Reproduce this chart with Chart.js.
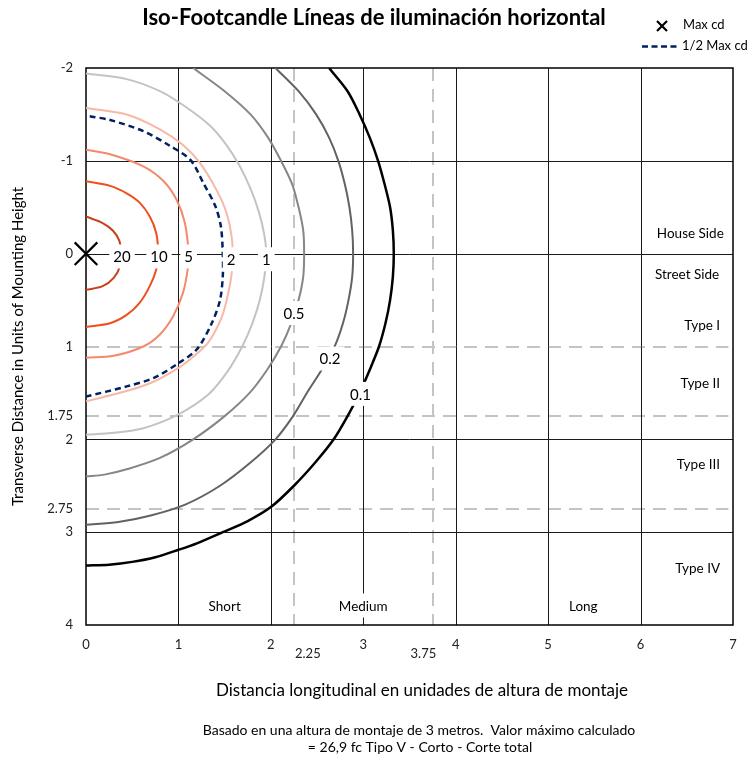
<!DOCTYPE html>
<html><head><meta charset="utf-8">
<script src="https://cdn.jsdelivr.net/npm/chart.js@4.4.1/dist/chart.umd.min.js"></script>
<style>html,body{margin:0;padding:0;background:#fff}#wrap{width:754px;height:761px;position:relative}</style>
</head><body><div id="wrap"><canvas id="c"></canvas></div>
<script>
// ---------- data ----------
const xTicks = [0,1,2,3,4,5,6,7];
const yTicks = [-2,-1,0,1,1.75,2,2.75,3,4];
const extraXTicks = [2.25, 3.75];
const isoLevels = ['20','10','5','2','1','0.5','0.2','0.1'];

const iso20 = [[0,-0.40],[0.18,-0.33],[0.29,-0.25],[0.36,-0.14],[0.38,0],[0.37,0.13],[0.30,0.26],[0.18,0.35],[0,0.39]];
const iso10 = [[0,-0.78],[0.26,-0.73],[0.44,-0.65],[0.58,-0.55],[0.69,-0.40],[0.76,-0.22],[0.78,0],[0.76,0.17],[0.69,0.35],[0.58,0.53],[0.44,0.66],[0.26,0.75],[0,0.79]];
const iso5  = [[0,-1.12],[0.26,-1.07],[0.62,-0.94],[0.84,-0.78],[0.98,-0.58],[1.07,-0.33],[1.11,0],[1.10,0.17],[1.05,0.42],[0.94,0.68],[0.80,0.87],[0.62,1.0],[0.30,1.10],[0,1.12]];
const iso2  = [[0,-1.57],[0.44,-1.50],[0.80,-1.34],[1.05,-1.17],[1.23,-0.98],[1.41,-0.69],[1.52,-0.44],[1.58,-0.15],[1.58,0.17],[1.54,0.42],[1.47,0.68],[1.32,0.96],[1.16,1.11],[1.0,1.23],[0.73,1.38],[0.44,1.48],[0,1.59]];
const iso1  = [[0,-1.94],[0.44,-1.88],[0.80,-1.75],[1.08,-1.58],[1.34,-1.38],[1.52,-1.17],[1.66,-0.95],[1.78,-0.70],[1.87,-0.45],[1.93,-0.2],[1.95,0],[1.93,0.25],[1.88,0.5],[1.80,0.75],[1.69,1.0],[1.53,1.27],[1.32,1.52],[1.0,1.73],[0.62,1.88],[0.30,1.93],[0,1.95]];
const iso05 = [[1.16,-2.0],[1.50,-1.75],[1.78,-1.5],[1.97,-1.25],[2.11,-1.0],[2.23,-0.75],[2.30,-0.5],[2.35,-0.25],[2.36,0],[2.35,0.25],[2.30,0.5],[2.22,0.75],[2.11,1.0],[1.96,1.25],[1.77,1.5],[1.50,1.75],[1.16,2.0],[0.80,2.2],[0.45,2.32],[0.2,2.38],[0,2.40]];
const iso02 = [[2.05,-2.0],[2.30,-1.75],[2.49,-1.5],[2.63,-1.25],[2.73,-1.0],[2.80,-0.75],[2.85,-0.5],[2.88,-0.25],[2.89,0],[2.88,0.25],[2.84,0.5],[2.78,0.75],[2.69,1.0],[2.55,1.25],[2.39,1.5],[2.24,1.75],[2.05,2.0],[1.78,2.25],[1.45,2.5],[1.08,2.7],[0.70,2.82],[0.35,2.89],[0,2.92]];
const iso01 = [[2.63,-2.0],[2.83,-1.75],[2.96,-1.5],[3.07,-1.25],[3.16,-1.0],[3.23,-0.75],[3.29,-0.5],[3.32,-0.25],[3.33,0],[3.32,0.25],[3.29,0.5],[3.24,0.75],[3.17,1.0],[3.07,1.25],[2.96,1.5],[2.83,1.75],[2.68,2.0],[2.48,2.25],[2.25,2.5],[2.0,2.73],[1.75,2.88],[1.48,3.0],[1.20,3.12],[1.0,3.19],[0.75,3.27],[0.5,3.32],[0.25,3.35],[0,3.36]];
const halfMax = [[0.04,-1.48],[0.26,-1.44],[0.62,-1.32],[0.91,-1.16],[1.13,-1.01],[1.27,-0.76],[1.40,-0.51],[1.46,-0.29],[1.48,0],[1.48,0.24],[1.45,0.50],[1.36,0.75],[1.20,1.03],[1.0,1.18],[0.73,1.34],[0.44,1.43],[0,1.54]];
const maxCd = [[0,0]];

const solidGridX = [1,2,3,4,5,6];
const solidGridY = [-1,0,2,3];
const dashedGridX = [2.25,3.75];
const dashedGridY = [1,1.75,2.75];

const zoneLabels = ['House Side','Street Side','Type I','Type II','Type III','Type IV'];
const rangeLabels = ['Short','Medium','Long'];

// ---------- label anchors (data space) ----------
const isoLabelAt = [[0.39,0.03],[0.79,0.03],[1.11,0.03],[1.57,0.06],[1.95,0.06],[2.25,0.64],[2.64,1.13],[2.97,1.51]];
const zoneLabelAt = [[6.90,-0.23],[6.85,0.22],[6.86,0.76],[6.86,1.39],[6.86,2.26],[6.86,3.38]];
const rangeLabelAt = [[1.50,3.79],[3.0,3.79],[5.38,3.79]];
const extraXLabelAt = [2.40, 3.65];

// ---------- styles ----------
const isoSeries = [iso20, iso10, iso5, iso2, iso1, iso05, iso02, iso01];
const isoColors = ['#C8401A','#F04E1E','#F4896E','#F8B8A6','#C3C3C3','#868686','#626262','#000000'];
const isoWidths = [2,2,2,2,2,2,2,2.5];
const FONT = 'Lato';

function makeChart(){
  const toXY = arr => arr.map(([x,y]) => ({x, y}));
  const datasets = [
    { label:'Max cd', data: toXY(maxCd), showLine:false, pointStyle:'crossRot', pointRadius:16,
      pointBorderWidth:2.2, pointBorderColor:'#000', borderColor:'#000', backgroundColor:'#000', clip:false, order:0 },
    { label:'1/2 Max cd', data: toXY(halfMax), showLine:true, borderColor:'#002060', borderWidth:2.5,
      borderDash:[6,4], pointRadius:0, tension:0.3, fill:false, order:1 }
  ];
  isoSeries.forEach((s,i) => datasets.push({
    label: isoLevels[i] + ' fc', data: toXY(s), showLine:true, borderColor: isoColors[i],
    borderWidth: isoWidths[i], pointRadius:0, tension:0.3, fill:false, order: 2 + i
  }));

  const decor = {
    id:'isoDecor',
    beforeDatasetsDraw(chart){
      const {ctx, chartArea:a, scales:{x:sx, y:sy}} = chart;
      ctx.save();
      ctx.strokeStyle = '#C4C4C4'; ctx.lineWidth = 2; ctx.setLineDash([13,8]);
      dashedGridX.forEach(v => { const x = Math.round(sx.getPixelForValue(v)); ctx.beginPath(); ctx.moveTo(x, a.top); ctx.lineTo(x, a.bottom); ctx.stroke(); });
      dashedGridY.forEach(v => { const y = Math.round(sy.getPixelForValue(v)); ctx.beginPath(); ctx.moveTo(a.left, y); ctx.lineTo(sx.getPixelForValue(6.95), y); ctx.stroke(); });
      ctx.setLineDash([]);
      ctx.strokeStyle = '#1a1a1a'; ctx.lineWidth = 1;
      solidGridX.forEach(v => { const x = Math.round(sx.getPixelForValue(v)) + 0.5; ctx.beginPath(); ctx.moveTo(x, a.top); ctx.lineTo(x, a.bottom); ctx.stroke(); });
      solidGridY.forEach(v => { const y = Math.round(sy.getPixelForValue(v)) + 0.5; ctx.beginPath(); ctx.moveTo(a.left, y); ctx.lineTo(a.right, y); ctx.stroke(); });
      ctx.lineWidth = 1.5; ctx.strokeStyle = '#000';
      ctx.strokeRect(a.left, a.top, a.right - a.left, a.bottom - a.top);
      ctx.restore();
    },
    afterDatasetsDraw(chart){
      const {ctx, scales:{x:sx, y:sy}} = chart;
      ctx.save();
      const boxText = (t, x, y, align, font) => {
        ctx.font = font;
        const w = ctx.measureText(t).width;
        let left = align === 'right' ? x - w : (align === 'center' ? x - w/2 : x);
        ctx.fillStyle = '#fff';
        ctx.fillRect(left - 4, y - 12, w + 8, 24);
        ctx.fillStyle = '#000';
        ctx.textAlign = 'left'; ctx.textBaseline = 'middle';
        ctx.fillText(t, left, y + 1);
      };
      isoLevels.forEach((t,i) => boxText(t, sx.getPixelForValue(isoLabelAt[i][0]), sy.getPixelForValue(isoLabelAt[i][1]), 'center', '15px ' + FONT));
      zoneLabels.forEach((t,i) => boxText(t, sx.getPixelForValue(zoneLabelAt[i][0]), sy.getPixelForValue(zoneLabelAt[i][1]), 'right', '13.5px ' + FONT));
      rangeLabels.forEach((t,i) => boxText(t, sx.getPixelForValue(rangeLabelAt[i][0]), sy.getPixelForValue(rangeLabelAt[i][1]), 'center', '13.5px ' + FONT));
      ctx.restore();
    },
    afterDraw(chart){
      const {ctx, chartArea:a, scales:{x:sx}} = chart;
      ctx.save();
      ctx.fillStyle = '#000'; ctx.textBaseline = 'middle'; ctx.textAlign = 'center';
      // title
      ctx.font = 'bold 22px ' + FONT;
      ctx.fillText('Iso-Footcandle Líneas de iluminación horizontal', 374, 18);
      // extra x tick labels
      ctx.font = '13px ' + FONT; ctx.fillStyle = '#222';
      extraXTicks.forEach((v,i) => ctx.fillText(String(v), sx.getPixelForValue(extraXLabelAt[i]), a.bottom + 29));
      // x title
      ctx.fillStyle = '#000';
      ctx.font = '17px ' + FONT;
      ctx.fillText('Distancia longitudinal en unidades de altura de montaje', 422, 691);
      // footer
      ctx.font = '14px ' + FONT;
      ctx.fillText('Basado en una altura de montaje de 3 metros.  Valor máximo calculado', 419, 730);
      ctx.fillText('= 26,9 fc Tipo V - Corto - Corte total', 420, 747);
      // y title
      ctx.save();
      ctx.translate(18, (a.top + a.bottom) / 2);
      ctx.rotate(-Math.PI / 2);
      ctx.font = '15px ' + FONT;
      ctx.fillText('Transverse Distance in Units of Mounting Height', 0, 0);
      ctx.restore();
      // legend
      ctx.strokeStyle = '#000'; ctx.lineWidth = 2.2;
      ctx.beginPath(); ctx.moveTo(657, 21); ctx.lineTo(667, 31); ctx.moveTo(667, 21); ctx.lineTo(657, 31); ctx.stroke();
      ctx.strokeStyle = '#002060'; ctx.lineWidth = 2.5; ctx.setLineDash([6,3.5]);
      ctx.beginPath(); ctx.moveTo(642, 46.5); ctx.lineTo(680, 46.5); ctx.stroke();
      ctx.setLineDash([]);
      ctx.fillStyle = '#000'; ctx.textAlign = 'left'; ctx.font = '13px ' + FONT;
      ctx.fillText('Max cd', 683, 25);
      ctx.fillText('1/2 Max cd', 682, 46);
      ctx.restore();
    }
  };

  new Chart(document.getElementById('c'), {
    type:'scatter',
    data:{ datasets },
    options:{
      responsive:true, maintainAspectRatio:false, animation:false,
      layout:{ padding:{ top:68, right:21, bottom:61, left:0 } },
      plugins:{ legend:{display:false}, tooltip:{enabled:false}, title:{display:false} },
      scales:{
        x:{ type:'linear', min:0, max:7,
            afterBuildTicks: s => { s.ticks = xTicks.map(v => ({value:v})); },
            afterFit: s => { s.height = 75; },
            grid:{ display:false, drawTicks:false }, border:{ display:false },
            ticks:{ font:{family:FONT, size:13}, color:'#222', padding:12, maxRotation:0, autoSkip:false, callback: v => String(v) } },
        y:{ type:'linear', min:-2, max:4, reverse:true,
            afterBuildTicks: s => { s.ticks = yTicks.map(v => ({value:v})); },
            afterFit: s => { s.width = 86; },
            grid:{ display:false, drawTicks:false }, border:{ display:false },
            ticks:{ font:{family:FONT, size:13}, color:'#222', padding:13, autoSkip:false, callback: v => String(v) } }
      }
    },
    plugins:[decor]
  });
}

Promise.all([document.fonts.load('13px Lato'), document.fonts.load('bold 22px Lato')]).then(makeChart, makeChart);
</script>
</body></html>
